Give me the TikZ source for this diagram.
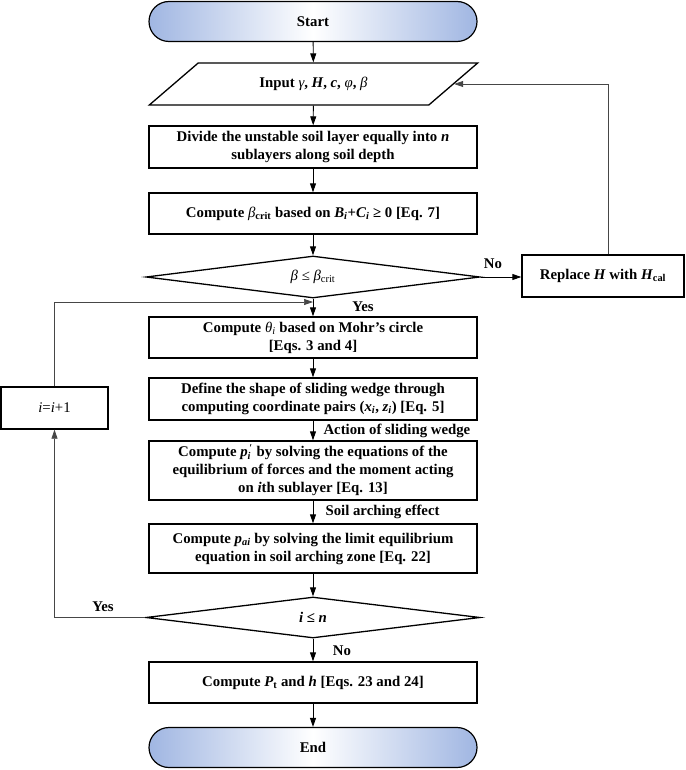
\documentclass[tikz,border=0pt]{standalone}
\usepackage{fontspec}
\setmainfont{Liberation Serif}
\usetikzlibrary{shapes.geometric,arrows.meta}
\definecolor{capblue}{RGB}{160,182,226}
\definecolor{lncol}{RGB}{70,70,70}
\newcommand\sbs[1]{\textsubscript{#1}}
\newcommand\gk[1]{{\mdseries\itshape #1}}
\newcommand\vi[1]{\textit{#1}}
\begin{document}
\begin{tikzpicture}[x=1pt,y=-1pt,
  every node/.style={font=\bfseries\fontsize{14.8}{18}\selectfont},
  procbox/.style={draw, line width=1.4pt, rectangle, minimum width=328pt, align=center, inner sep=1pt},
  capsule/.style={draw, line width=1.2pt, rounded corners=20pt, minimum width=328pt, minimum height=40pt, left color=capblue, right color=capblue, middle color=white},
  decide/.style={draw, line width=1.3pt, diamond, aspect=8, inner sep=0pt, minimum width=334pt, minimum height=42pt},
  inbox/.style={draw, line width=1.3pt, trapezium, trapezium left angle=33.7, trapezium right angle=146.3, trapezium stretches=true, minimum width=329pt, minimum height=42pt, inner sep=1pt},
  flow/.style={line width=0.9pt, -{Triangle[length=9pt,width=6pt]}},
  back/.style={line width=0.7pt, draw=lncol, -{Triangle[length=9pt,width=6pt]}},
  lbl/.style={font=\bfseries\fontsize{14.8}{17}\selectfont}
]
\useasboundingbox (0,0) rectangle (685,770);
\node[capsule] (start) at (313,21.5) {Start};
\node[inbox] (inp) at (313.5,84) {Input \gk{γ}, \vi{H}, \vi{c}, \gk{φ}, \gk{β}};
\node[procbox, minimum height=42pt] (div) at (313,147) {Divide the unstable soil layer equally into \vi{n}\\sublayers along soil depth};
\node[procbox, minimum height=41pt] (bcr) at (313,213.5) {Compute \gk{β}\sbs{crit} based on \vi{B}\sbs{\vi{i}}+\vi{C}\sbs{\vi{i}} ≥ 0 [Eq. 7]};
\node[decide] (d1) at (313,277) {\mdseries\gk{β} ≤ \gk{β}\sbs{crit}};
\node[procbox, minimum width=162pt, minimum height=42pt] (rep) at (603,276) {Replace \vi{H} with \vi{H}\sbs{cal}};
\node[procbox, minimum height=41pt] (th) at (313,337.5) {Compute \gk{θ}\sbs{\gk{i}} based on Mohr’s circle\\{[}Eqs. 3 and 4{]}};
\node[procbox, minimum height=42pt] (def) at (313,399) {Define the shape of sliding wedge through\\computing coordinate pairs (\vi{x}\sbs{\vi{i}}, \vi{z}\sbs{\vi{i}}) [Eq. 5]};
\node[procbox, minimum height=59pt] (pi) at (313,470.5) {Compute \vi{p}\rlap{\sbs{\vi{i}}}\textsuperscript{\,′} by solving the equations of the\\equilibrium of forces and the moment acting\\on \vi{i}th sublayer [Eq. 13]};
\node[procbox, minimum height=49pt] (pai) at (313,548.5) {Compute \vi{p}\sbs{\vi{ai}} by solving the limit equilibrium\\equation in soil arching zone [Eq. 22]};
\node[decide, minimum height=41pt] (d2) at (313,617.5) {\vi{i} ≤ \vi{n}};
\node[procbox, minimum height=41pt] (pt) at (313,682.5) {Compute \vi{P}\sbs{t} and \vi{h} [Eqs. 23 and 24]};
\node[capsule] (end) at (313,747.5) {End};
\node[procbox, minimum width=107pt, minimum height=42pt] (inc) at (54.5,408) {\mdseries\vi{i}=\vi{i}+1};
\coordinate (mrg) at (313,302);
\draw[flow] (start) -- (inp);
\draw[flow] (inp) -- (div);
\draw[flow] (div) -- (bcr);
\draw[flow] (bcr) -- (d1);
\draw[flow] (d1.east) -- (rep.west |- d1.east);
\draw[back] ([xshift=5pt]rep.north) |- (inp.east);
\draw[flow] (d1) -- (th);
\draw[back] (inc.north) |- (mrg);
\draw[flow] (th) -- (def);
\draw[flow] (def) -- (pi);
\draw[flow] (pi) -- (pai);
\draw[flow] (pai) -- (d2);
\draw[back] (d2.west) -| (inc.south);
\draw[flow] (d2) -- (pt);
\draw[flow] (pt) -- (end);
\node[lbl] (no1) at (493,264) {No};
\node[lbl] (yes1) at (363,307) {Yes};
\node[lbl, anchor=west] (act) at (320,431) {Action of sliding wedge};
\node[lbl, anchor=west] (arch) at (322,512) {Soil arching effect};
\node[lbl] (yes2) at (103,607) {Yes};
\node[lbl] (no2) at (342,651) {No};
\end{tikzpicture}
\end{document}
